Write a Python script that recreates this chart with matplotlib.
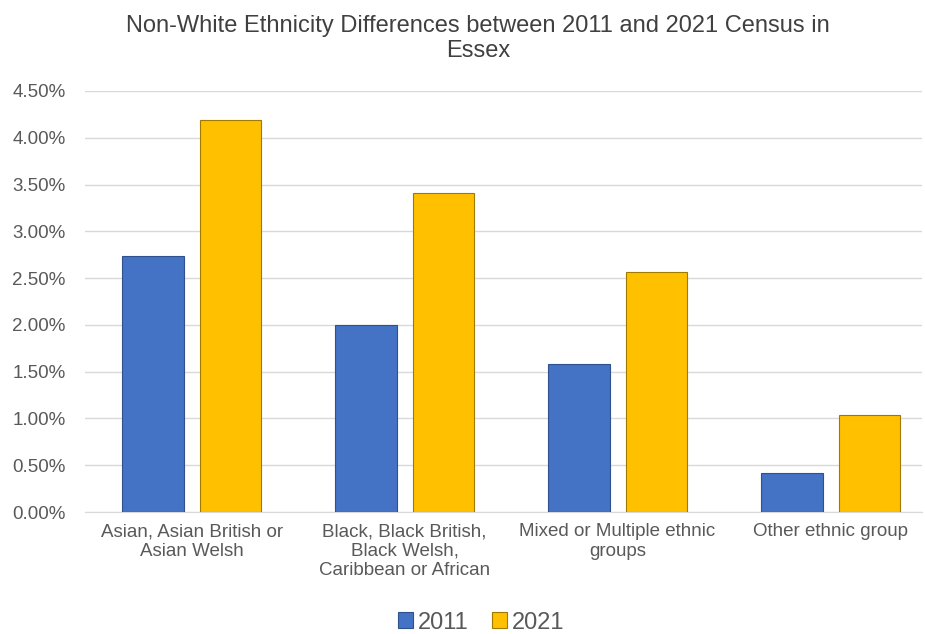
import numpy as np
import matplotlib
matplotlib.use('Agg')
import matplotlib.pyplot as plt
from matplotlib.ticker import PercentFormatter

# Dados (percentual da populacao)
categorias = [
    'Asian, Asian British or\nAsian Welsh',
    'Black, Black British,\nBlack Welsh,\nCaribbean or African',
    'Mixed or Multiple ethnic\ngroups',
    'Other ethnic group',
]
valores_2011 = [2.74, 2.00, 1.58, 0.42]
valores_2021 = [4.19, 3.41, 2.57, 1.04]

plt.rcParams['font.family'] = ['Liberation Sans', 'DejaVu Sans']
cinza = '#595959'

fig = plt.figure(figsize=(9.25, 6.34), dpi=100)
ax = fig.add_axes([0.092, 0.1924, 0.905, 0.6641])

x = np.arange(len(categorias))
largura = 0.29
desloc = 0.183
ax.bar(x - desloc, np.array(valores_2011) / 100, largura, color='#4472C4',
       edgecolor='#2F528F', linewidth=0.8, label='2011', zorder=3)
ax.bar(x + desloc, np.array(valores_2021) / 100, largura, color='#FFC000',
       edgecolor='#A07A00', linewidth=0.8, label='2021', zorder=3)

ax.set_ylim(0, 0.045)
ax.set_yticks(np.arange(0, 0.0451, 0.005))
ax.yaxis.set_major_formatter(PercentFormatter(1.0, decimals=2))
ax.set_xlim(-0.5, 3.43)
ax.set_xticks(x)
ax.set_xticklabels(categorias, fontsize=13.5, color=cinza, va='top', linespacing=1.2)
ax.tick_params(axis='y', labelsize=13.5, labelcolor=cinza, length=0, pad=14)
ax.tick_params(axis='x', length=0, pad=8)
ax.grid(axis='y', color='#D9D9D9', linewidth=1, zorder=0)
for lado in ['top', 'right', 'left']:
    ax.spines[lado].set_visible(False)
ax.spines['bottom'].set_color('#D9D9D9')

fig.text(0.517, 0.939, 'Non-White Ethnicity Differences between 2011 and 2021 Census in\nEssex',
         ha='center', va='center', fontsize=17, color='#404040', linespacing=1.2)

fig.legend(loc='center', bbox_to_anchor=(0.52, 0.018), ncol=2, frameon=False,
           fontsize=17, handlelength=0.65, handleheight=0.65, handletextpad=0.2,
           columnspacing=1.0, labelcolor=cinza)

fig.savefig('out.png', dpi=100)
